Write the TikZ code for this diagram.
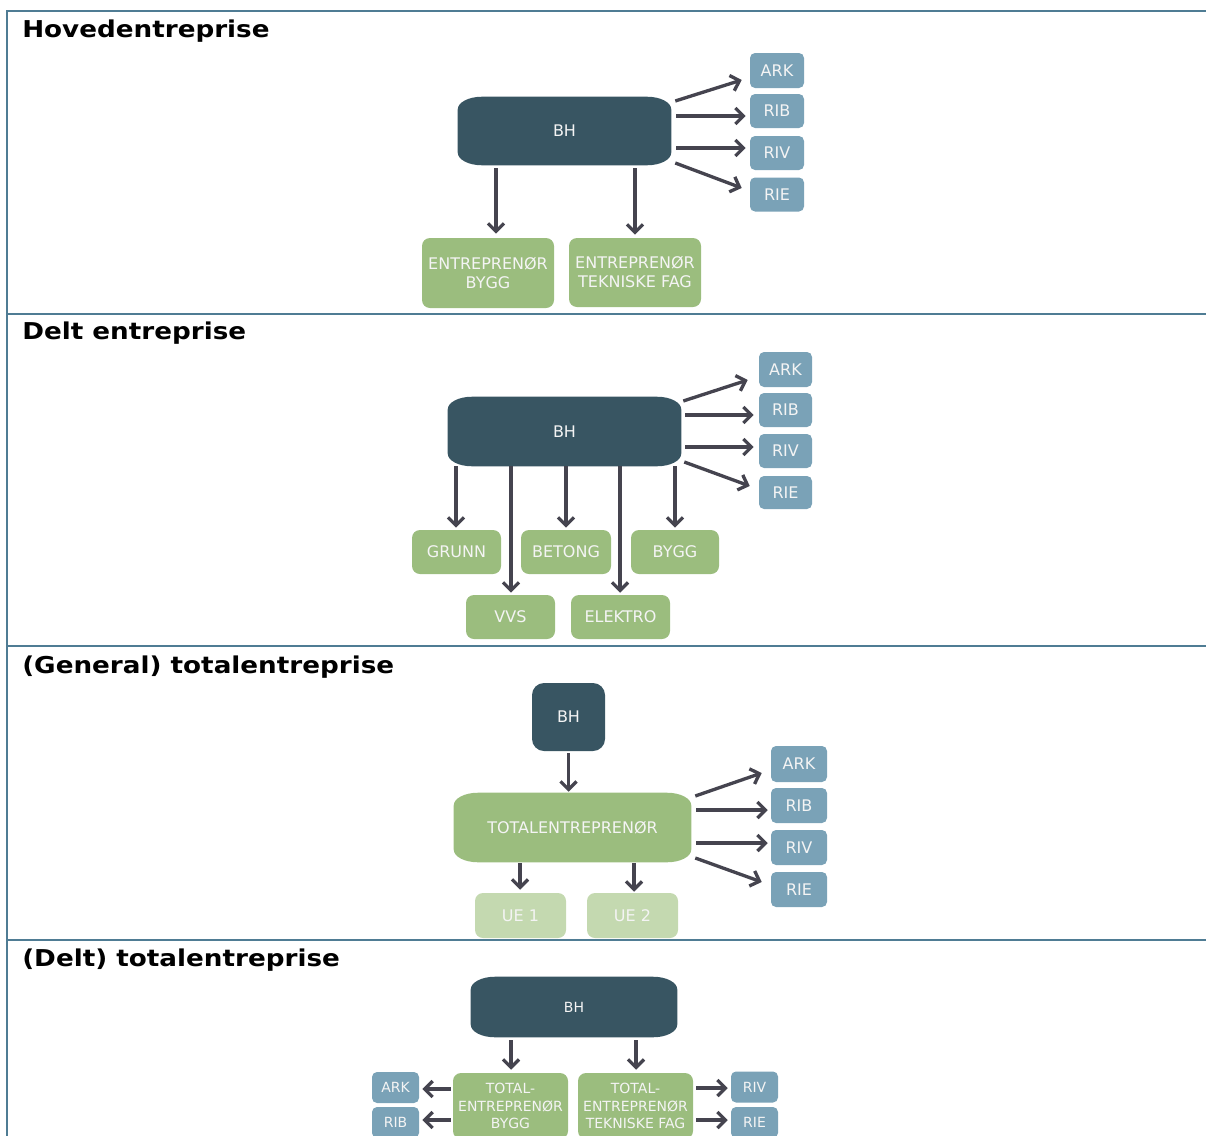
\documentclass[tikz,border=0pt]{standalone}
\usepackage{fontspec}
\setmainfont{DejaVu Sans}
\newfontfamily\headfont[FakeStretch=1.13]{DejaVu Sans}
\usetikzlibrary{arrows.meta,calc,backgrounds}

\definecolor{owner}{HTML}{385562}
\definecolor{contractor}{HTML}{9BBD7E}
\definecolor{subcontractor}{HTML}{C4D9B0}
\definecolor{consultant}{HTML}{7AA2B7}
\definecolor{frameline}{HTML}{4F7C94}
\definecolor{arrowline}{HTML}{45444F}
\definecolor{boxtext}{HTML}{F4F4F4}

% corner radii of the soft "capsule" boxes
\def\capx{18pt}
\def\capy{9.5pt}
% filled box with elliptical corners behind a named node
\newcommand\capsule[2]{%
  \fill[#2]
    ($(#1.south west)+(\capx,0pt)$) -- ($(#1.south east)+(-\capx,0pt)$)
    .. controls ($(#1.south east)+(-0.45*\capx,0pt)$) and ($(#1.south east)+(0pt,0.45*\capy)$) .. ($(#1.south east)+(0pt,\capy)$)
    -- ($(#1.north east)+(0pt,-\capy)$)
    .. controls ($(#1.north east)+(0pt,-0.45*\capy)$) and ($(#1.north east)+(-0.45*\capx,0pt)$) .. ($(#1.north east)+(-\capx,0pt)$)
    -- ($(#1.north west)+(\capx,0pt)$)
    .. controls ($(#1.north west)+(0.45*\capx,0pt)$) and ($(#1.north west)+(0pt,-0.45*\capy)$) .. ($(#1.north west)+(0pt,-\capy)$)
    -- ($(#1.south west)+(0pt,\capy)$)
    .. controls ($(#1.south west)+(0pt,0.45*\capy)$) and ($(#1.south west)+(0.45*\capx,0pt)$) .. ($(#1.south west)+(\capx,0pt)$)
    -- cycle;}

\begin{document}
\begin{tikzpicture}[
  x=0.75pt, y=-0.75pt,
  wh/.style 2 args={minimum width=#1*0.75pt, minimum height=#2*0.75pt},
  head/.style={inner sep=0pt, anchor=base west, font=\headfont\bfseries\fontsize{17.4}{20}\selectfont},
  box/.style={inner sep=0pt, text=boxtext, align=center, font=\fontsize{12}{14.25}\selectfont},
  smalltext/.style={font=\fontsize{10.5}{13.1}\selectfont},
  capsbox/.style={box},
  cons/.style={box, fill=consultant, rounded corners=3.75pt},
  contr/.style={box, fill=contractor, rounded corners=6pt},
  subc/.style={box, fill=subcontractor, rounded corners=6pt},
  ownerbox/.style={box, fill=owner, rounded corners=9pt},
  arr/.style={draw=arrowline, line width=2.5pt, -{Straight Barb[length=6pt,width=12pt]}},
  frame/.style={draw=frameline, line width=1.6pt},
]
\useasboundingbox (0,0) rectangle (1206,1135);
\clip (0,0) rectangle (1206,1135);

% frame and separators
\draw[frame] (1206,11) -- (7,11) -- (7,1140);
\draw[frame] (7,314) -- (1206,314);
\draw[frame] (7,646) -- (1206,646);
\draw[frame] (7,940) -- (1206,940);

% ---------- Hovedentreprise ----------
\node[head] (h1) at (22,37) {Hovedentreprise};
\node[capsbox, wh={213}{68}] (bh1) at (564.5,131) {BH};
\node[cons, wh={54}{35}] (ark1) at (777,70.5) {ARK};
\node[cons, wh={54}{34}] (rib1) at (777,111) {RIB};
\node[cons, wh={54}{34}] (riv1) at (777,153) {RIV};
\node[cons, wh={54}{34}] (rie1) at (777,194.5) {RIE};
\node[contr, wh={132}{70}] (eb1) at (488,273) {ENTREPRENØR\\BYGG};
\node[contr, wh={132}{69}] (et1) at (635,272.5) {ENTREPRENØR\\TEKNISKE FAG};
\begin{pgfonlayer}{background}\capsule{bh1}{owner}\end{pgfonlayer}
\draw[arr] ($(bh1.east)+(4,-30)$) -- ($(ark1.west)+(-8,9.5)$);
\draw[arr] ($(bh1.east)+(5,-15)$) -- ($(rib1.west)+(-4,5)$);
\draw[arr] ($(bh1.east)+(5,17)$) -- ($(riv1.west)+(-4,-5)$);
\draw[arr] ($(bh1.east)+(4,32)$) -- ($(rie1.west)+(-8,-6.5)$);
\draw[arr] ($(bh1.south -| eb1.north)+(8,3)$) -- ($(eb1.north)+(8,-4)$);
\draw[arr] ($(bh1.south -| et1.north)+(0,3)$) -- ($(et1.north)+(0,-3)$);

% ---------- Delt entreprise ----------
\node[head] (h2) at (22,339) {Delt entreprise};
\node[capsbox, wh={233}{69}] (bh2) at (564.5,431.5) {BH};
\node[cons, wh={53}{35}] (ark2) at (785.5,369.5) {ARK};
\node[cons, wh={53}{34}] (rib2) at (785.5,410) {RIB};
\node[cons, wh={53}{34}] (riv2) at (785.5,451) {RIV};
\node[cons, wh={53}{33}] (rie2) at (785.5,492.5) {RIE};
\node[contr, wh={89}{44}] (gr2) at (456.5,552) {GRUNN};
\node[contr, wh={90}{44}] (be2) at (566,552) {BETONG};
\node[contr, wh={88}{44}] (by2) at (675,552) {BYGG};
\node[contr, wh={89}{44}] (vv2) at (510.5,617) {VVS};
\node[contr, wh={99}{44}] (el2) at (620.5,617) {ELEKTRO};
\begin{pgfonlayer}{background}\capsule{bh2}{owner}\end{pgfonlayer}
\draw[arr] ($(bh2.east)+(2,-30.5)$) -- ($(ark2.west)+(-11,10.5)$);
\draw[arr] ($(bh2.east)+(4,-16.5)$) -- ($(rib2.west)+(-5,5)$);
\draw[arr] ($(bh2.east)+(4,15.5)$) -- ($(riv2.west)+(-5,-4)$);
\draw[arr] ($(bh2.east)+(3,30.5)$) -- ($(rie2.west)+(-9,-6.5)$);
\draw[arr] ($(bh2.south -| gr2.north)+(-0.5,0)$) -- ($(gr2.north)+(-0.5,-2)$);
\draw[arr] ($(bh2.south -| vv2.north)+(0.5,0)$) -- ($(vv2.north)+(0.5,-2)$);
\draw[arr] ($(bh2.south -| be2.north)+(0,0)$) -- ($(be2.north)+(0,-2)$);
\draw[arr] ($(bh2.south -| el2.north)+(-0.5,0)$) -- ($(el2.north)+(-0.5,-2)$);
\draw[arr] ($(bh2.south -| by2.north)+(0,0)$) -- ($(by2.north)+(0,-2)$);

% ---------- (General) totalentreprise ----------
\node[head] (h3) at (22,673) {(General) totalentreprise};
\node[ownerbox, wh={73}{68}] (bh3) at (568.5,717) {BH};
\node[capsbox, wh={237}{69}] (te3) at (572.5,827.5) {TOTALENTREPRENØR};
\node[cons, wh={56}{36}] (ark3) at (799,764) {ARK};
\node[cons, wh={56}{35}] (rib3) at (799,805.5) {RIB};
\node[cons, wh={56}{35}] (riv3) at (799,847.5) {RIV};
\node[cons, wh={56}{35}] (rie3) at (799,889.5) {RIE};
\node[subc, wh={91}{45}] (ue1) at (520.5,915.5) {UE 1};
\node[subc, wh={91}{45}] (ue2) at (632.5,915.5) {UE 2};
\begin{pgfonlayer}{background}\capsule{te3}{contractor}\end{pgfonlayer}
\draw[arr] ($(bh3.south)+(0,2)$) -- ($(bh3.south |- te3.north)+(0,-1)$);
\draw[arr] ($(te3.east)+(4,-31.5)$) -- ($(ark3.west)+(-9,9)$);
\draw[arr] ($(te3.east)+(5,-17.5)$) -- ($(rib3.west)+(-3,4.5)$);
\draw[arr] ($(te3.east)+(5,15.5)$) -- ($(riv3.west)+(-3,-4.5)$);
\draw[arr] ($(te3.east)+(4,30.5)$) -- ($(rie3.west)+(-9,-7.5)$);
\draw[arr] ($(te3.south -| ue1.north)+(-0.5,1)$) -- ($(ue1.north)+(-0.5,-3)$);
\draw[arr] ($(te3.south -| ue2.north)+(1.5,1)$) -- ($(ue2.north)+(1.5,-1)$);

% ---------- (Delt) totalentreprise ----------
\node[head] (h4) at (22,966) {(Delt) totalentreprise};
\node[capsbox, wh={206}{60}, font=\fontsize{10.5}{12}\selectfont] (bh4) at (574,1007) {BH};
\node[contr, smalltext, wh={115}{66}] (tb4) at (510.5,1106) {TOTAL-\\ENTREPRENØR\\BYGG};
\node[contr, smalltext, wh={115}{66}] (tt4) at (635.5,1106) {TOTAL-\\ENTREPRENØR\\TEKNISKE FAG};
\node[cons, smalltext, wh={47}{31}] (ark4) at (395.5,1087.5) {ARK};
\node[cons, smalltext, wh={47}{31}] (rib4) at (395.5,1122.5) {RIB};
\node[cons, smalltext, wh={47}{31}] (riv4) at (754.5,1087) {RIV};
\node[cons, smalltext, wh={47}{31}] (rie4) at (754.5,1122.5) {RIE};
\begin{pgfonlayer}{background}\capsule{bh4}{owner}\end{pgfonlayer}
\draw[arr] ($(bh4.south -| tb4.north)+(0.5,3)$) -- ($(tb4.north)+(0.5,-3)$);
\draw[arr] ($(bh4.south -| tt4.north)+(0.5,3)$) -- ($(tt4.north)+(0.5,-3)$);
\draw[arr] ($(tb4.west)+(-2,-17)$) -- ($(ark4.east)+(3,1.5)$);
\draw[arr] ($(tb4.west)+(-2,14)$) -- ($(rib4.east)+(3,-2.5)$);
\draw[arr] ($(tt4.east)+(3,-18)$) -- ($(riv4.west)+(-3,1)$);
\draw[arr] ($(tt4.east)+(3,14)$) -- ($(rie4.west)+(-3,-2.5)$);
\end{tikzpicture}
\end{document}
